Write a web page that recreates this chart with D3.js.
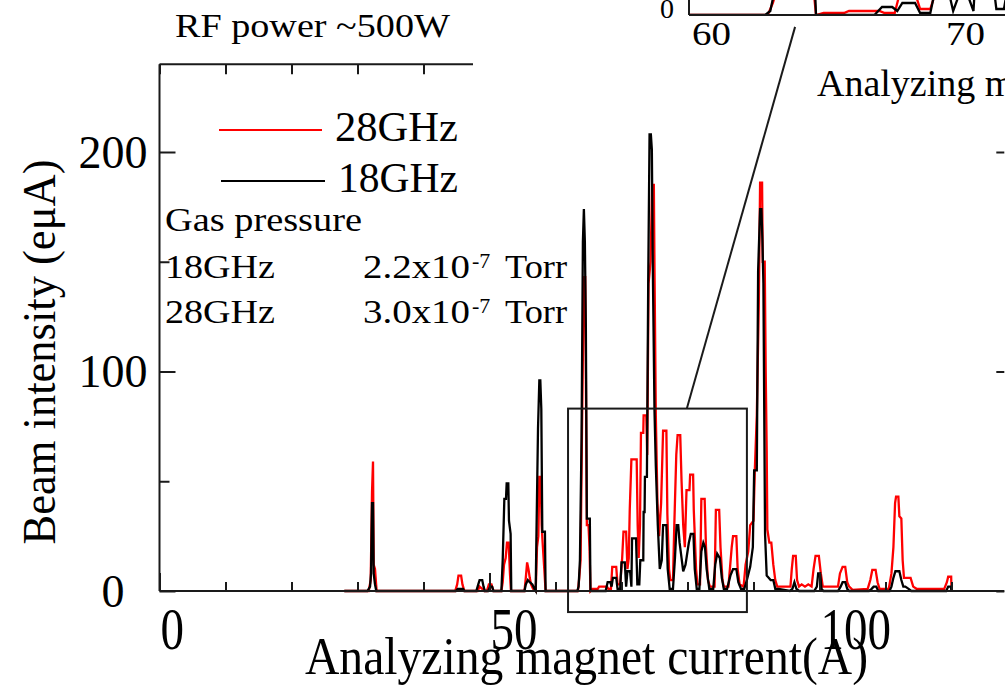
<!DOCTYPE html>
<html>
<head>
<meta charset="utf-8">
<script src="https://cdn.jsdelivr.net/npm/d3@7"></script>
<style>
  body { margin: 0; background: #fff; }
  svg { display: block; font-family: "Liberation Serif", "DejaVu Serif", serif; }
</style>
</head>
<body>
<svg width="1005" height="685"></svg>
<script>
// beam spectrum, 18GHz (black) vs 28GHz (red), [magnet current A, beam eμA]
const ghz18 = [
  [28,0],[31.5,0],[31.9,2],[32.05,8],[32.2,40],[32.35,40],[32.45,8],[32.65,3],[32.85,0],
  [44.9,0],[45.2,1],[46.0,1],[46.2,0],
  [48.0,0],[48.3,3],[48.5,5],[48.9,5],[49.1,2],[49.3,0],
  [49.8,0],[50.1,2],[50.4,2],[50.6,0],
  [51.8,0],[52.0,14],[52.25,42],[52.5,42],[52.6,49],[52.85,49],[52.95,32],[53.2,26],[53.3,0],
  [55.3,0],[55.5,3],[55.8,5],[56.1,4],[56.5,3],[56.8,1],[57.0,0],
  [57.1,23],[57.35,74],[57.55,96],[57.7,96],[57.85,83],[58.0,27],[58.4,27],[58.5,0],
  [63.3,0],[63.5,2],[63.7,14],[63.95,70],[64.15,159],[64.3,174],[64.45,159],[64.6,120],[64.75,33],[65.2,33],[65.3,0],
  [67.6,0],[67.9,4],[68.3,4],[68.5,2],[68.7,6],[69.2,6],[69.4,1],[69.8,1],
  [70.0,13],[70.5,13],[70.7,2],[70.9,9],[71.3,9],[71.5,2],[71.6,24],[72.2,24],[72.4,3],[72.7,3],
  [72.85,14],[73.3,14],[73.35,36],[73.5,36],[73.55,52],[73.85,52],[74.05,142],[74.25,208],[74.45,208],
  [74.6,201],[74.75,146],[75.0,82],[75.2,57],[75.5,30],[75.8,10],[76.1,14],[76.3,30],[76.8,30],
  [77.0,10],[77.3,1],[77.8,1],[78.1,15],[78.35,30],[78.6,30],[78.8,22],[79.1,15],[79.35,9],[79.7,12],
  [80.2,22],[80.5,26],[80.9,26],[81.1,10],[81.4,1],[81.8,1],[82.1,18],[82.4,22],[82.65,20],[82.9,10],
  [83.3,1],[83.9,1],[84.2,12],[84.5,17],[84.9,15],[85.2,6],[85.5,1],[86.0,1],[86.5,7],[86.9,10],
  [87.4,10],[87.7,4],[88.1,1],[88.6,1],[89.0,5],[89.5,11],[89.9,20],[90.1,55],[90.5,55],[90.7,146],
  [91.0,174],[91.2,174],[91.35,160],[91.5,140],[91.75,26],[92.0,7],[92.3,6],[92.6,5],[93.0,5],[93.3,1],[93.8,1],
  [95.5,0],[95.9,1],[96.2,4],[96.5,1],[96.9,0],
  [99.2,0],[99.6,2],[99.8,8],[100.1,8],[100.3,1],[100.6,0],
  [102.8,0],[103.2,2],[103.5,4],[103.9,4],[104.2,1],[104.5,0],
  [107.5,0],[107.9,1],[108.2,2],[108.6,2],[108.9,0],
  [110.6,0],[110.9,2],[111.2,6],[111.5,9],[112.1,9],[112.4,5],[112.7,2],[113.0,2],[113.5,1],[113.9,0],
  [119.2,0],[119.5,2],[119.9,2],[120.0,0]
];
const ghz28 = [
  [28,0],[31.7,0],[32.0,5],[32.2,45],[32.35,59],[32.45,12],[32.65,10],[32.9,0],
  [44.8,0],[45.1,3],[45.3,7],[45.7,7],[45.9,3],[46.2,0],
  [48.2,0],[48.5,2],[48.9,1],[49.2,0],
  [49.6,0],[49.9,3],[50.3,3],[50.6,0],
  [51.8,0],[52.0,4],[52.2,12],[52.45,15],[52.65,22],[52.9,22],[53.1,8],[53.25,0],
  [55.3,0],[55.5,6],[55.7,13],[55.9,10],[56.1,6],[56.3,3],[56.6,1],[57.0,0],
  [57.2,20],[57.4,25],[57.55,52],[57.75,52],[57.9,30],[58.05,22],[58.3,10],[58.5,0],
  [63.4,0],[63.6,6],[63.8,14],[64.0,69],[64.2,120],[64.35,143],[64.5,143],[64.6,100],[64.75,30],[65.0,30],[65.15,20],[65.3,0],
  [65.6,1],[66.4,1],[66.6,2],[67.8,2],[68.0,1],[68.4,1],[68.6,11],[69.2,11],[69.4,3],[69.8,3],
  [70.1,15],[70.3,27],[70.7,27],[70.9,10],[71.1,15],[71.25,37],[71.5,60],[72.3,60],[72.45,30],[72.6,15],
  [72.8,30],[72.95,72],[73.3,72],[73.35,80],[73.75,80],[73.9,62],[74.1,140],[74.4,150],[74.65,185],[74.9,185],
  [75.0,147],[75.2,80],[75.45,40],[75.7,25],[76.0,40],[76.3,73],[76.8,73],[76.95,35],[77.2,10],[77.4,5],
  [77.8,5],[78.0,30],[78.3,62],[78.5,71],[78.9,71],[79.1,50],[79.35,30],[79.6,20],[79.85,46],[80.3,46],
  [80.4,53],[80.85,53],[80.95,37],[81.3,10],[81.5,3],[81.9,3],[82.1,42],[82.6,42],[82.8,20],[83.1,5],
  [83.4,2],[84.1,2],[84.3,37],[84.8,37],[85.0,20],[85.3,5],[85.5,2],[86.2,2],[86.7,20],[86.9,25],
  [87.4,25],[87.6,10],[87.9,3],[88.5,2],[88.8,12],[89.2,18],[89.5,30],[90.0,32],[90.2,55],[90.5,80],
  [90.8,130],[91.0,186],[91.3,186],[91.4,150],[91.7,150],[91.85,100],[92.0,64],[92.1,28],[92.4,22],[92.7,22],
  [93.0,12],[93.3,5],[93.6,2],[95.6,2],[95.8,10],[96.0,16],[96.4,16],[96.6,5],[96.9,2],
  [97.3,3],[97.8,2],[98.3,3],[98.8,2],[99.1,10],[99.4,16],[99.9,16],[100.2,8],[100.5,2],
  [102.8,2],[103.1,8],[103.5,11],[103.9,11],[104.2,4],[104.5,2],[105.0,0.5],
  [107.3,1],[107.7,5],[108.0,9.6],[108.5,9.6],[108.8,4],[109.1,1],
  [110.5,1],[110.9,8],[111.2,20],[111.45,40],[111.6,43],[111.95,43],[112.1,34],[112.4,33],[112.6,14],
  [112.8,6],[113.3,6],[113.8,6],[114.2,2],[114.7,1],
  [118.9,1],[119.3,4],[119.5,6.5],[119.95,6.5],[120.0,0]
];

const xMinor = [10, 20, 30, 40, 60, 70, 80, 90, 110, 120];
const xMajor = [0, 50, 100];
const yMinor = [50, 150];
const yMajor = [0, 100, 200];
const insetTicks = [60, 70];
// zoom box drawn on the main plot: [x0, x1], [y0, y1]
const boxX = [61.9, 89.0];
const boxY = [-9.6, 83.1];

const svg = d3.select("svg");
const x = d3.scaleLinear().domain([0, 128]).range([159.5, 159.5 + 128 * 6.6]);
const y = d3.scaleLinear().domain([0, 240]).range([591, 591 - 240 * 2.195]);

const ink = "#1a1a1a";

// data
const line = d3.line().x(d => x(d[0])).y(d => y(d[1]));
svg.append("path").datum(ghz28).attr("d", line)
  .attr("fill", "none").attr("stroke", "#ff0000").attr("stroke-width", 2.3);
svg.append("path").datum(ghz18).attr("d", line)
  .attr("fill", "none").attr("stroke", "#000").attr("stroke-width", 2.3);

// frame
const frame = svg.append("g").attr("stroke", ink).attr("stroke-width", 2);
frame.append("line").attr("x1", x(0)).attr("x2", x(128)).attr("y1", y(0)).attr("y2", y(0));
frame.append("line").attr("x1", x(0)).attr("x2", x(0)).attr("y1", y(0)).attr("y2", y(240));
frame.append("line").attr("x1", x(0)).attr("x2", x(128)).attr("y1", y(240)).attr("y2", y(240));

const tickStyle = g => {
  g.select(".domain").remove();
  g.selectAll(".tick line").attr("stroke", ink).attr("stroke-width", 2);
};
svg.append("g").attr("transform", `translate(0,${y(0)})`)
  .call(d3.axisBottom(x).tickValues(xMinor).tickSize(-9).tickFormat("")).call(tickStyle);
svg.append("g").attr("transform", `translate(0,${y(0)})`)
  .call(d3.axisBottom(x).tickValues(xMajor).tickSize(-18).tickFormat("")).call(tickStyle);
svg.append("g").attr("transform", `translate(0,${y(240)})`)
  .call(d3.axisTop(x).tickValues(xMinor.concat(xMajor)).tickSize(-10).tickFormat("")).call(tickStyle);
svg.append("g").attr("transform", `translate(${x(0)},0)`)
  .call(d3.axisLeft(y).tickValues(yMajor).tickSize(-16).tickFormat("")).call(tickStyle);
svg.append("g").attr("transform", `translate(${x(0)},0)`)
  .call(d3.axisLeft(y).tickValues(yMinor).tickSize(-10).tickFormat("")).call(tickStyle);
svg.append("g").attr("transform", `translate(${x(128)},0)`)
  .call(d3.axisRight(y).tickValues(yMajor).tickSize(-8).tickFormat("")).call(tickStyle);

// tick labels (x labels are drawn taller, as in the source figure)
svg.append("g").selectAll("text").data(xMajor).join("text")
  .attr("transform", d => `translate(${x(d) + 1},649) scale(1,1.28)`)
  .attr("font-size", 47).attr("fill", "#000").text(d => d);
svg.append("g").selectAll("text").data(yMajor).join("text")
  .attr("x", 113).attr("y", d => y(d)).attr("dy", "0.34em")
  .attr("text-anchor", "middle").attr("font-size", 46).attr("fill", "#000").text(d => d);

// axis titles
svg.append("text").attr("transform", "translate(305,674) scale(1,1.18)")
  .attr("font-size", 44).attr("textLength", 563).attr("lengthAdjust", "spacingAndGlyphs")
  .text("Analyzing magnet current(A)");
svg.append("text").attr("transform", "translate(55,352) rotate(-90)")
  .attr("text-anchor", "middle").attr("font-size", 46)
  .attr("textLength", 385).attr("lengthAdjust", "spacingAndGlyphs")
  .text("Beam intensity (eμA)");

// legend
const legend = [
  { name: "28GHz", color: "#ff0000", y: 130, x1: 219, x2: 322, tx: 335 },
  { name: "18GHz", color: "#000", y: 181, x1: 221, x2: 325, tx: 338 }
];
legend.forEach(l => {
  svg.append("line").attr("x1", l.x1).attr("x2", l.x2).attr("y1", l.y).attr("y2", l.y)
    .attr("stroke", l.color).attr("stroke-width", 2);
  svg.append("text").attr("x", l.tx).attr("y", l.y + 11).attr("font-size", 42)
    .attr("textLength", 458 - l.tx).attr("lengthAdjust", "spacingAndGlyphs").text(l.name);
});

// gas pressure note
svg.append("text").attr("x", 165).attr("y", 231).attr("font-size", 34)
  .attr("textLength", 197).attr("lengthAdjust", "spacingAndGlyphs").text("Gas pressure");
const pressure = [
  { band: "18GHz", val: "2.2x10", y: 278 },
  { band: "28GHz", val: "3.0x10", y: 323 }
];
pressure.forEach(p => {
  svg.append("text").attr("x", 165).attr("y", p.y).attr("font-size", 34)
    .attr("textLength", 110).attr("lengthAdjust", "spacingAndGlyphs").text(p.band);
  svg.append("text").attr("x", 363).attr("y", p.y).attr("font-size", 34)
    .attr("textLength", 107).attr("lengthAdjust", "spacingAndGlyphs").text(p.val);
  svg.append("text").attr("x", 472).attr("y", p.y - 10).attr("font-size", 22).text("-7");
  svg.append("text").attr("x", 505).attr("y", p.y).attr("font-size", 34)
    .attr("textLength", 62).attr("lengthAdjust", "spacingAndGlyphs").text("Torr");
});

svg.append("text").attr("x", 175).attr("y", 37).attr("font-size", 34)
  .attr("textLength", 275).attr("lengthAdjust", "spacingAndGlyphs").text("RF power ~500W");

// zoom box on main plot
svg.append("rect")
  .attr("x", x(boxX[0])).attr("y", y(boxY[1]))
  .attr("width", x(boxX[1]) - x(boxX[0])).attr("height", y(boxY[0]) - y(boxY[1]))
  .attr("fill", "none").attr("stroke", ink).attr("stroke-width", 2);

// inset (mostly outside the picture)
svg.append("rect").attr("x", 473).attr("y", 0).attr("width", 532).attr("height", 108).attr("fill", "#fff");
const ix = d3.scaleLinear().domain([60, 70]).range([689, 943]);
const iy = d3.scaleLinear().domain([0, 10]).range([15, 15 - 20]);
svg.append("clipPath").attr("id", "insetClip").append("rect")
  .attr("x", 689).attr("y", -20).attr("width", 320).attr("height", 35);
const iline = d3.line().x(d => ix(d[0] - 0.3)).y(d => iy(d[1]));
const inset = svg.append("g").attr("clip-path", "url(#insetClip)");
inset.append("path").datum(ghz28).attr("d", iline)
  .attr("fill", "none").attr("stroke", "#ff0000").attr("stroke-width", 2.3);
inset.append("path").datum(ghz18).attr("d", iline)
  .attr("fill", "none").attr("stroke", "#000").attr("stroke-width", 2.3);
svg.append("line").attr("x1", 689).attr("x2", 1005).attr("y1", iy(0)).attr("y2", iy(0))
  .attr("stroke", ink).attr("stroke-width", 2);
svg.append("line").attr("x1", 689).attr("x2", 689).attr("y1", -5).attr("y2", iy(0))
  .attr("stroke", ink).attr("stroke-width", 2);
svg.append("text").attr("x", 667).attr("y", 18).attr("text-anchor", "middle")
  .attr("font-size", 28).text("0");
svg.append("g").selectAll("text").data(insetTicks).join("text")
  .attr("transform", d => `translate(${ix(d) + 3},45) scale(1,1.1)`).attr("font-size", 30)
  .attr("textLength", 39).attr("lengthAdjust", "spacingAndGlyphs").text(d => d);
svg.append("text").attr("x", 817).attr("y", 96).attr("font-size", 38)
  .text("Analyzing magnet current(A)");

// connector from zoom box to inset
svg.append("line")
  .attr("x1", x(79.9)).attr("y1", y(boxY[1]))
  .attr("x2", x(96.3)).attr("y2", y(257))
  .attr("stroke", ink).attr("stroke-width", 2);
</script>
</body>
</html>
